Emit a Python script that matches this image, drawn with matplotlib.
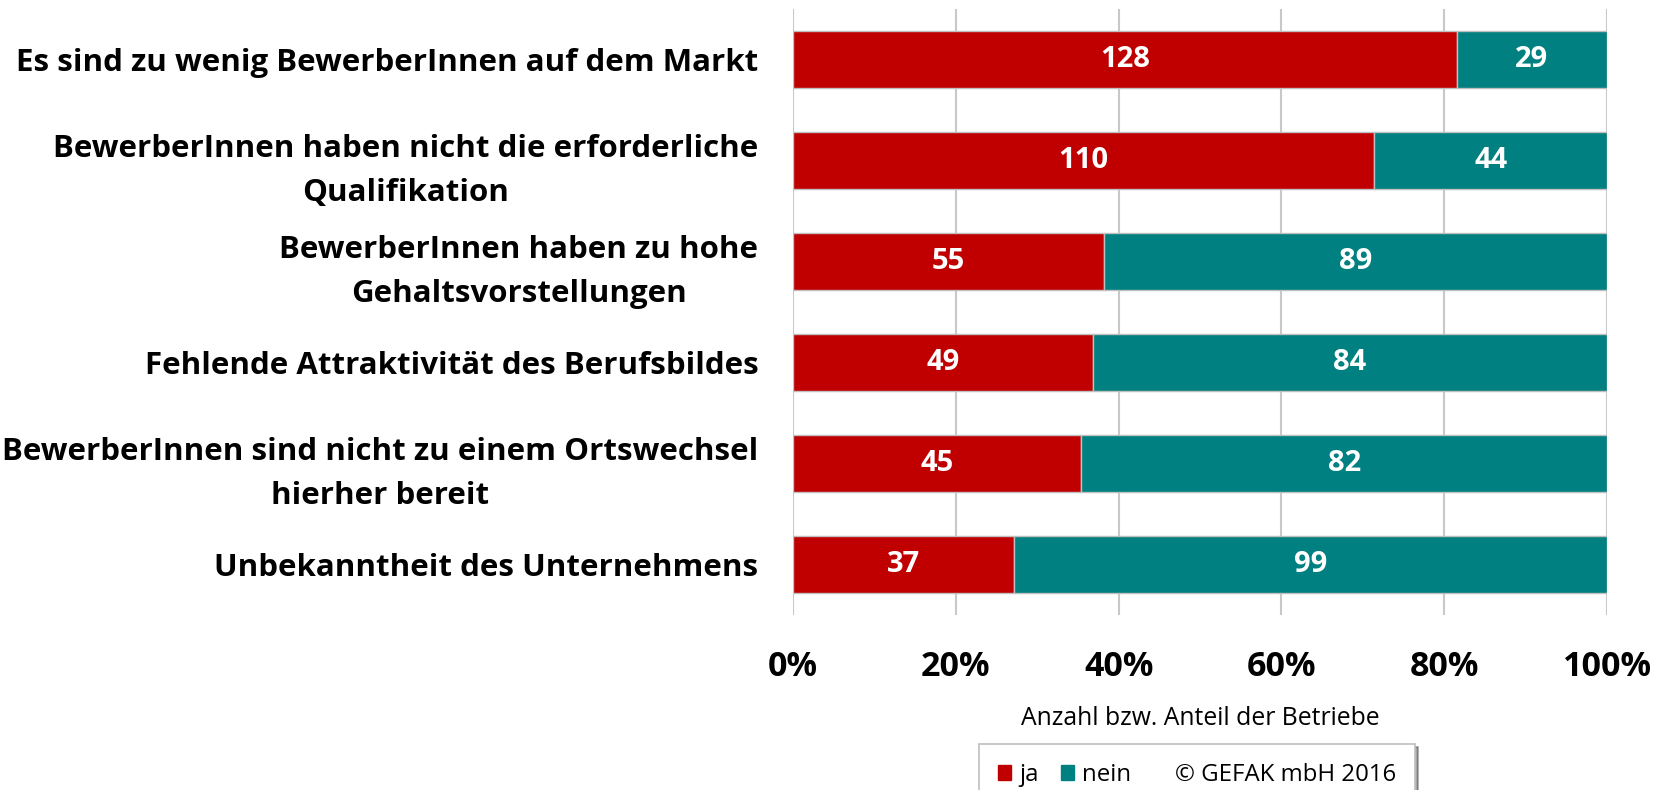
import numpy as np
import matplotlib
matplotlib.use("Agg")
import matplotlib.pyplot as plt
from matplotlib.patches import Patch
from matplotlib.ticker import FuncFormatter

plt.rcParams['font.family'] = ['Open Sans', 'DejaVu Sans']

categories = [
    "Es sind zu wenig BewerberInnen auf dem Markt",
    "BewerberInnen haben nicht die erforderliche\nQualifikation",
    "BewerberInnen haben zu hohe\nGehaltsvorstellungen",
    "Fehlende Attraktivität des Berufsbildes",
    "BewerberInnen sind nicht zu einem Ortswechsel\nhierher bereit",
    "Unbekanntheit des Unternehmens",
]
ja = np.array([128, 110, 55, 49, 45, 37])
nein = np.array([29, 44, 89, 84, 82, 99])
xticks = [0, 0.2, 0.4, 0.6, 0.8, 1.0]

red = "#C00000"
teal = "#008080"
grid_grey = "#C8C8C8"

total = ja + nein
ja_share = ja / total
nein_share = nein / total

fig = plt.figure(figsize=(16.58, 7.90), dpi=100)
ax = fig.add_axes([793 / 1658, 1 - 615 / 790, 814 / 1658, 606 / 790])

y = np.arange(len(categories))
h = 0.565
ax.barh(y, ja_share, height=h, color=red, edgecolor="#BFBFBF", linewidth=1, zorder=3)
ax.barh(y, nein_share, left=ja_share, height=h, color=teal, edgecolor="#BFBFBF", linewidth=1, zorder=3)

for i in range(len(categories)):
    ax.text(ja_share[i] / 2, y[i], str(ja[i]), ha="center", va="center",
            color="white", fontsize=21, fontweight="bold", zorder=4)
    ax.text(ja_share[i] + nein_share[i] / 2, y[i], str(nein[i]), ha="center", va="center",
            color="white", fontsize=21, fontweight="bold", zorder=4)

ax.set_xlim(0, 1)
ax.set_ylim(len(categories) - 0.5, -0.5)
ax.set_xticks(xticks)
ax.xaxis.set_major_formatter(FuncFormatter(lambda v, p: f"{v * 100:.0f}%"))
ax.grid(axis="x", color=grid_grey, linewidth=1.5, zorder=0)
ax.tick_params(axis="x", length=0, pad=25, labelsize=24.5)
for lbl in ax.get_xticklabels():
    lbl.set_fontweight("bold")

ax.set_yticks(y)
ax.set_yticklabels(categories, fontsize=22.5, fontweight="bold", multialignment="center",
                   linespacing=1.6)
ax.tick_params(axis="y", length=0, pad=25)
for s in ax.spines.values():
    s.set_visible(False)

ax.set_xlabel("Anzahl bzw. Anteil der Betriebe", fontsize=17.8, labelpad=16)

handles = [Patch(color=red, label="ja"), Patch(color=teal, label="nein"),
           Patch(color="none", label="© GEFAK mbH 2016")]
leg = fig.legend(handles=handles, loc="upper center", bbox_to_anchor=(1197 / 1658, 1 - 744 / 790),
                 ncol=3, fontsize=17.3, frameon=True, fancybox=False, shadow=True,
                 handlelength=0.55, handleheight=0.55, handletextpad=0.35, columnspacing=0.9,
                 borderpad=0.8, borderaxespad=0)
leg.get_frame().set_edgecolor("#BFBFBF")
leg.get_frame().set_linewidth(1.2)

fig.savefig("out.png", dpi=100)
